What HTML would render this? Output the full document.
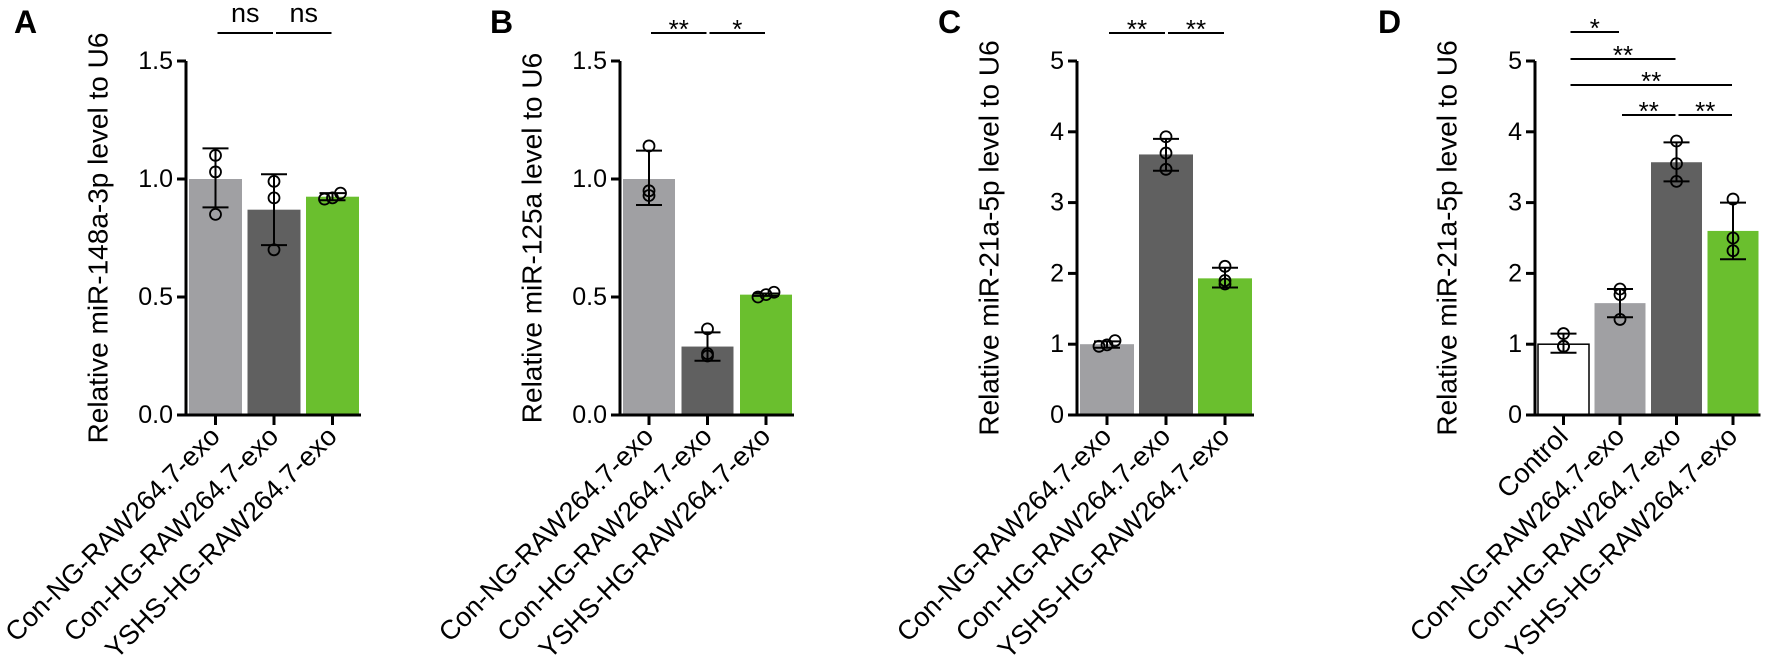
<!DOCTYPE html>
<html><head><meta charset="utf-8">
<style>
html,body{margin:0;padding:0;background:#fff;}
svg{display:block;font-family:"Liberation Sans",Arial,sans-serif;}
</style></head>
<body>
<svg id="fig" width="1772" height="669" viewBox="0 0 1772 669" xmlns="http://www.w3.org/2000/svg"></svg>
<script>
// ---- Panel A data ----
const aCategories = ["Con-NG-RAW264.7-exo","Con-HG-RAW264.7-exo","YSHS-HG-RAW264.7-exo"];
const aMeans = [1.0, 0.87, 0.925];
const aLow = [0.88, 0.72, 0.91];
const aHigh = [1.13, 1.02, 0.94];
const aPoints = [[1.10,1.03,0.85],[0.99,0.92,0.70],[0.915,0.92,0.94]];
const aTicks = ["0.0","0.5","1.0","1.5"];
const aTickValues = [0, 0.5, 1.0, 1.5];
const aSig = [[0,1,"ns"],[1,2,"ns"]];
// ---- Panel B data ----
const bCategories = ["Con-NG-RAW264.7-exo","Con-HG-RAW264.7-exo","YSHS-HG-RAW264.7-exo"];
const bMeans = [1.0, 0.29, 0.51];
const bLow = [0.89, 0.23, 0.505];
const bHigh = [1.12, 0.35, 0.515];
const bPoints = [[1.14,0.95,0.93],[0.365,0.26,0.25],[0.50,0.51,0.52]];
const bTicks = ["0.0","0.5","1.0","1.5"];
const bTickValues = [0, 0.5, 1.0, 1.5];
const bSig = [[0,1,"**"],[1,2,"*"]];
// ---- Panel C data ----
const cCategories = ["Con-NG-RAW264.7-exo","Con-HG-RAW264.7-exo","YSHS-HG-RAW264.7-exo"];
const cMeans = [1.0, 3.68, 1.93];
const cLow = [0.95, 3.45, 1.80];
const cHigh = [1.04, 3.90, 2.08];
const cPoints = [[0.97,0.99,1.05],[3.93,3.70,3.47],[2.10,1.90,1.85]];
const cTicks = ["0","1","2","3","4","5"];
const cTickValues = [0,1,2,3,4,5];
const cSig = [[0,1,"**"],[1,2,"**"]];
// ---- Panel D data ----
const dCategories = ["Control","Con-NG-RAW264.7-exo","Con-HG-RAW264.7-exo","YSHS-HG-RAW264.7-exo"];
const dMeans = [1.0, 1.58, 3.57, 2.60];
const dLow = [0.88, 1.38, 3.30, 2.20];
const dHigh = [1.15, 1.78, 3.85, 3.00];
const dPoints = [[1.15,0.97,0.97],[1.78,1.70,1.35],[3.87,3.55,3.30],[3.05,2.50,2.32]];
const dTicks = ["0","1","2","3","4","5"];
const dTickValues = [0,1,2,3,4,5];
const dSig = [[0,1,"*"],[0,2,"**"],[0,3,"**"],[1,2,"**"],[2,3,"**"]];

const NS = "http://www.w3.org/2000/svg";
const svg = document.getElementById("fig");
function mk(tag, attrs, parent){
  const e = document.createElementNS(NS, tag);
  for (const k in attrs) e.setAttribute(k, attrs[k]);
  (parent||svg).appendChild(e);
  return e;
}

function drawPanel(o){
  const g = mk("g", {});
  
  
  const y0 = 415, yTop = 61;
  const yScale = v => y0 - v / o.ymax * (y0 - yTop);
  const xLeft = i => o.axisX + 3 + i * o.pitch;
  const xCenter = i => xLeft(i) + o.bw / 2;

  const L = mk("text", {x:o.letterX, y:33, "font-size":32, "font-weight":"bold"}, g);
  L.textContent = o.letter;
  
  

  const tx = o.axisX - 88, ty = 238;
  const T = mk("text", {x:tx, y:ty, "font-size":28, "text-anchor":"middle", "dominant-baseline":"central", transform:`rotate(-90 ${tx} ${ty})`}, g);
  T.textContent = o.title;
  
  

  o.means.forEach((m, i) => {
    const fill = o.colors[i];
    const r = mk("rect", {x:xLeft(i), y:yScale(m), width:o.bw, height:y0 - yScale(m), fill:fill,
      stroke: fill === "#ffffff" ? "#000" : "none", "stroke-width":1.5}, g);
    
    
  });

  o.means.forEach((m, i) => {
    const cx = xCenter(i);
    const e = mk("g", {stroke:"#000", "stroke-width":2, fill:"none"}, g);
    
    
    mk("line", {x1:cx, x2:cx, y1:yScale(o.low[i]), y2:yScale(o.high[i])}, e);
    mk("line", {x1:cx-13, x2:cx+13, y1:yScale(o.low[i]), y2:yScale(o.low[i])}, e);
    mk("line", {x1:cx-13, x2:cx+13, y1:yScale(o.high[i]), y2:yScale(o.high[i])}, e);
    const pts = o.points[i];
    const ys = pts.map(yScale);
    const spread = Math.max(...ys) - Math.min(...ys);
    pts.forEach((p, j) => {
      let dx = 0;
      if (spread < 12) dx = (j - 1) * 8;
      const c = mk("circle", {cx:cx + dx, cy:yScale(p), r:5.5, fill:"none", stroke:"#000", "stroke-width":1.8}, g);
      
      
    });
  });

  const lastX = xLeft(o.means.length - 1) + o.bw + 2;
  const ax = mk("line", {x1:o.axisX, x2:o.axisX, y1:yTop, y2:y0 + 1.5, stroke:"#000", "stroke-width":3}, g);
  
  
  const bx = mk("line", {x1:o.axisX - 9, x2:lastX, y1:y0, y2:y0, stroke:"#000", "stroke-width":3}, g);
  
  

  o.tickValues.forEach((v, k) => {
    const yy = yScale(v);
    mk("line", {x1:o.axisX - 9, x2:o.axisX, y1:yy, y2:yy, stroke:"#000", "stroke-width":3}, g);
    const t = mk("text", {x:o.axisX - 13, y:yy, "font-size":25, "text-anchor":"end", "dominant-baseline":"central"}, g);
    t.textContent = o.ticks[k];
    
    
  });

  o.categories.forEach((c, i) => {
    const cx = xCenter(i);
    mk("line", {x1:cx, x2:cx, y1:y0, y2:y0 + 10, stroke:"#000", "stroke-width":3}, g);
    const lx = cx + 6, ly = 438;
    const t = mk("text", {x:lx, y:ly, "font-size":27, "text-anchor":"end", transform:`rotate(-45 ${lx} ${ly})`}, g);
    t.textContent = c;
    
    
  });

  o.sig.forEach((s, k) => {
    const ly = o.sigY[k];
    const x1 = xCenter(s[0]) + (s[0] === o.sigStartFrom ? 7 : 2);
    const x2 = xCenter(s[1]) - 1;
    const l = mk("line", {x1:x1, x2:x2, y1:ly, y2:ly, stroke:"#000", "stroke-width":2}, g);
    
    
    const isNs = s[2] === "ns";
    const t = mk("text", {x:(x1 + x2) / 2, y: isNs ? ly - 11 : ly + 5, "font-size": isNs ? 27 : 26, "text-anchor":"middle"}, g);
    t.textContent = s[2];
    
    
  });
}

const G1 = "#a0a0a3", G2 = "#606060", GR = "#6abf2e";
drawPanel({letter:"A", letterX:14, axisX:186, pitch:58.5, bw:53, ymax:1.5,
  title:"Relative miR-148a-3p level to U6", categories:aCategories, means:aMeans, low:aLow, high:aHigh,
  points:aPoints, ticks:aTicks, tickValues:aTickValues, sig:aSig, sigY:[33,33], colors:[G1,G2,GR]});
drawPanel({letter:"B", letterX:490, axisX:620, pitch:58.5, bw:52, ymax:1.5,
  title:"Relative miR-125a level to U6", categories:bCategories, means:bMeans, low:bLow, high:bHigh,
  points:bPoints, ticks:bTicks, tickValues:bTickValues, sig:bSig, sigY:[33,33], colors:[G1,G2,GR]});
drawPanel({letter:"C", letterX:938, axisX:1077, pitch:59, bw:54, ymax:5,
  title:"Relative miR-21a-5p level to U6", categories:cCategories, means:cMeans, low:cLow, high:cHigh,
  points:cPoints, ticks:cTicks, tickValues:cTickValues, sig:cSig, sigY:[33,33], colors:[G1,G2,GR]});
drawPanel({letter:"D", letterX:1378, axisX:1535, pitch:56.5, bw:51, ymax:5,
  title:"Relative miR-21a-5p level to U6", categories:dCategories, means:dMeans, low:dLow, high:dHigh,
  points:dPoints, ticks:dTicks, tickValues:dTickValues, sig:dSig, sigY:[32,59,85,115,115], sigStartFrom:0,
  colors:["#ffffff",G1,G2,GR]});
</script>
</body></html>
